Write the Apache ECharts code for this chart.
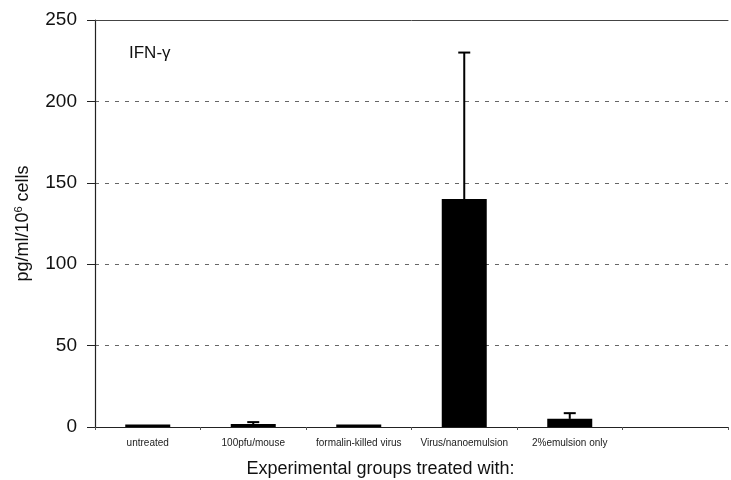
<!DOCTYPE html>
<html><head><meta charset="utf-8">
<script src="https://cdn.jsdelivr.net/npm/echarts@6/dist/echarts.min.js"></script>
<style>html,body{margin:0;padding:0;background:#fff}#c{width:731px;height:480px}</style>
</head><body><div id="c"></div>
<script>
const categories = ['untreated', '100pfu/mouse', 'formalin-killed virus', 'Virus/nanoemulsion', '2%emulsion only'];
const values = [1.5, 1.8, 1.5, 140, 5];
const errorTops = [null, 3, null, 230, 8.5];
const yTicks = [0, 50, 100, 150, 200, 250];

const chart = echarts.init(document.getElementById('c'));
const font = '"Liberation Sans", Arial, sans-serif';
chart.setOption({
  backgroundColor: '#fff',
  animation: false,
  grid: { left: 95, right: 3, top: 20, bottom: 53, containLabel: false, outerBoundsMode: 'none' },
  title: {
    text: 'IFN-γ', left: 124, top: 40,
    textStyle: { fontFamily: font, fontSize: 17, fontWeight: 'normal', color: '#111' }
  },
  xAxis: [{
    type: 'category', data: categories, max: categories.length,
    name: 'Experimental groups treated with:', nameLocation: 'middle', nameGap: 33,
    nameTextStyle: { fontFamily: font, fontSize: 18, color: '#111', padding: [0, 0, 0, -62] },
    axisLine: { lineStyle: { color: '#222', width: 1.2 } },
    axisTick: { show: true, length: 3, lineStyle: { color: '#555' } },
    axisLabel: { fontFamily: font, fontSize: 10, color: '#222', margin: 11, interval: 0 }
  }, {
    type: 'category', data: categories, max: categories.length, position: 'top',
    axisLine: { lineStyle: { color: '#444', width: 1 } },
    axisTick: { show: false }, axisLabel: { show: false }
  }],
  yAxis: {
    type: 'value', min: 0, max: 250, interval: 50,
    name: '{a|pg/ml/10}{s|6}{a| cells}', nameLocation: 'middle', nameGap: 62, nameRotate: 90,
    nameTextStyle: {
      rich: {
        a: { fontFamily: font, fontSize: 18, color: '#111' },
        s: { fontFamily: font, fontSize: 11, color: '#111', verticalAlign: 'top', padding: [0, 0, 9, 0] }
      }
    },
    axisLine: { show: true, lineStyle: { color: '#222', width: 1.2 } },
    axisTick: { show: true, length: 8, lineStyle: { color: '#222' } },
    axisLabel: { fontFamily: font, fontSize: 19, color: '#111', margin: 18,
      formatter: v => yTicks.includes(v) ? String(v) : '' },
    splitLine: { show: true, lineStyle: { color: '#666', type: [4, 6], width: 1 } }
  },
  series: [{
    type: 'bar', data: values, barWidth: 45,
    itemStyle: { color: '#000' }
  }, {
    type: 'custom',
    data: errorTops.map((e, i) => [i, values[i], e]),
    renderItem: function (params, api) {
      const e = api.value(2);
      if (e === null || e === undefined || isNaN(e)) return;
      const base = api.coord([api.value(0), api.value(1)]);
      const top = api.coord([api.value(0), e]);
      return {
        type: 'group', children: [
          { type: 'line', shape: { x1: base[0], y1: base[1], x2: top[0], y2: top[1] }, style: { stroke: '#000', lineWidth: 2 } },
          { type: 'line', shape: { x1: top[0] - 6, y1: top[1], x2: top[0] + 6, y2: top[1] }, style: { stroke: '#000', lineWidth: 2 } }
        ]
      };
    },
    z: 5
  }]
});
</script></body></html>
